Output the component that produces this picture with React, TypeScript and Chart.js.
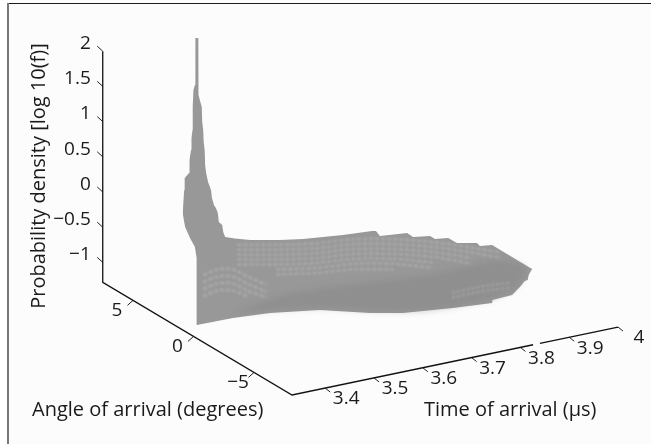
import React, { useEffect, useRef } from "react";
import { Chart, registerables } from "chart.js";

Chart.register(...registerables);

const FONT = "'Open Sans'";
const INK = "#1a1a1a";

// The picture plane is measured in apparent time (µs) and apparent log density,
// as read against the front corner of the box.
const planeTimeRange = [2.7336, 4.0676];
const planeDensityRange = [-1.98, 4.327];

// Axis box
const cornerTime = 3.332;
const timeEnd = 4;
const angleBack = 7.5;
const angleFront = -8.14;
const densityFloor = -1.284;
const densityTop = 2;
const timeAxisGap = [3.826, 3.84];

const timeTicks = [3.4, 3.5, 3.6, 3.7, 3.8, 3.9, 4];
const angleTicks = [5, 0, -5];
const densityTicks = [2, 1.5, 1, 0.5, 0, -0.5, -1];
const timeTickLabels = ["3.4", "3.5", "3.6", "3.7", "3.8", "3.9", "4"];
const angleTickLabels = ["5", "0", "\u22125"];
const densityTickLabels = ["2", "1.5", "1", "0.5", "0", "\u22120.5", "\u22121"];

// Silhouette of the surface
const upperTime = [3.108, 3.111, 3.112, 3.121, 3.122, 3.125, 3.126, 3.128, 3.128, 3.129, 3.13, 3.133, 3.134, 3.134, 3.14, 3.14, 3.14, 3.141, 3.147, 3.148, 3.15, 3.151, 3.153, 3.154, 3.156, 3.16, 3.166, 3.168, 3.172, 3.176, 3.18, 3.182, 3.189, 3.191, 3.195, 3.215, 3.246, 3.307, 3.355, 3.436, 3.496, 3.504, 3.512, 3.568, 3.58, 3.615, 3.625, 3.652, 3.67, 3.711, 3.717, 3.742, 3.793, 3.824];
const upperDensity = [1.301, 1.628, 1.799, 1.87, 2.054, 2.196, 2.367, 2.48, 2.736, 2.807, 3.049, 3.12, 3.12, 3.787, 3.787, 3.12, 3.091, 2.978, 2.807, 2.594, 2.48, 2.31, 2.196, 1.983, 1.87, 1.742, 1.628, 1.514, 1.415, 1.372, 1.301, 1.174, 1.131, 1.032, 0.961, 0.939, 0.918, 0.918, 0.932, 0.989, 1.046, 1.046, 0.975, 1.017, 0.961, 0.975, 0.932, 0.946, 0.875, 0.875, 0.833, 0.847, 0.634, 0.506];
const lowerTime = [3.108, 3.111, 3.113, 3.123, 3.133, 3.136, 3.137, 3.137, 3.211, 3.287, 3.389, 3.492, 3.559, 3.662, 3.742, 3.743, 3.783, 3.799, 3.809, 3.815, 3.817, 3.824];
const lowerDensity = [1.301, 1.174, 1.103, 0.946, 0.818, 0.662, 0.492, -0.289, -0.19, -0.119, -0.076, -0.119, -0.119, -0.048, 0.023, 0.066, 0.137, 0.25, 0.335, 0.349, 0.42, 0.506];

// Darker band along the ridge
const bandTime = [3.2, 3.25, 3.32, 3.4, 3.5, 3.6, 3.68, 3.74, 3.79, 3.815];
const bandTop = [-0.14, -0.02, 0.14, 0.24, 0.33, 0.41, 0.52, 0.62, 0.6, 0.5];
const bandBottom = [-0.14, -0.1, -0.07, -0.05, -0.09, -0.09, -0.01, 0.08, 0.24, 0.5];

// Lighter mesh rows on the back part of the surface
const meshRowTime = [3.22, 3.3, 3.38, 3.46, 3.54, 3.62, 3.7, 3.76];
const meshRows = [
  [0.85, 0.85, 0.87, 0.93, 0.93, 0.89, 0.81, 0.74],
  [0.78, 0.78, 0.8, 0.86, 0.86, 0.82, 0.74, 0.66],
  [0.71, 0.71, 0.73, 0.79, 0.79, 0.75, 0.66, NaN],
  [0.64, 0.64, 0.66, 0.72, 0.72, 0.68, 0.58, NaN],
  [0.57, 0.57, 0.59, 0.65, 0.65, 0.6, NaN, NaN],
  [NaN, 0.5, 0.52, 0.58, 0.58, 0.52, NaN, NaN],
  [NaN, 0.43, 0.45, 0.5, 0.5, NaN, NaN, NaN],
];
// Lighter mesh near the front left of the surface, and near the tip
const patchRowTime = [3.15, 3.18, 3.21, 3.24, 3.28];
const patchRows = [
  [0.42, 0.5, 0.5, 0.4, 0.28],
  [0.32, 0.4, 0.4, 0.3, 0.18],
  [0.22, 0.3, 0.3, 0.2, 0.1],
  [0.12, 0.2, 0.2, 0.12, NaN],
];
const tipRowTime = [3.66, 3.7, 3.74, 3.78];
const tipRows = [
  [0.17, 0.23, 0.28, 0.31],
  [0.1, 0.16, 0.21, 0.24],
];

const cols = (time: number[], density: number[]) =>
  time.map((x, i) => ({ x, y: density[i] }));

// Oblique projection of the box onto the picture plane
const project = (t: number, a: number, z: number) => ({
  x: t - (a - angleFront) * 0.0248,
  y: densityFloor + (t - cornerTime) * 1.445 + (a - angleFront) * 0.1023 + (z - densityFloor),
});
const pxX = (p: number) => p / 488;
const pxY = (p: number) => p / 70.4;
const gap = { x: NaN, y: NaN };
const withTick = (p: { x: number; y: number }, dx: number, dy: number) => [
  p,
  { x: p.x + pxX(dx), y: p.y - pxY(dy) },
  gap,
];

const axisPoints = [
  project(cornerTime, angleBack, densityTop),
  project(cornerTime, angleBack, densityFloor),
  project(cornerTime, angleFront, densityFloor),
  project(timeAxisGap[0], angleFront, densityFloor),
  gap,
  project(timeAxisGap[1], angleFront, densityFloor),
  project(timeEnd, angleFront, densityFloor),
];
const tickPoints = [
  ...densityTicks.flatMap((z) => withTick(project(cornerTime, angleBack, z), -5.5, -5)),
  ...angleTicks.flatMap((a) => withTick(project(cornerTime, a, densityFloor), -5.5, 5)),
  ...timeTicks.flatMap((t) => withTick(project(t, angleFront, densityFloor), 5, 4)),
];

const meshSet = (time: number[], rows: number[][], color: string, dash: number[], w: number) =>
  rows.map((r) => ({
    data: cols(time, r),
    showLine: true,
    pointRadius: 0,
    borderColor: color,
    borderWidth: w,
    borderDash: dash,
    tension: 0.3,
    fill: false,
    order: 3,
  }));

export default function App() {
  const ref = useRef<HTMLCanvasElement>(null);
  useEffect(() => {
    const frame = {
      id: "frame",
      beforeDraw(c: Chart) {
        const { ctx, width, height } = c;
        ctx.save();
        ctx.fillStyle = "#fcfcfc";
        ctx.fillRect(0, 0, width, height);
        ctx.fillStyle = "#ffffff";
        ctx.fillRect(0, 0, width, 3);
        ctx.fillRect(0, 0, 7, height);
        ctx.fillStyle = "#1c1c1c";
        ctx.fillRect(7, 3, width - 7, 1);
        ctx.fillStyle = "#777777";
        ctx.fillRect(7, 3, 2, height - 3);
        ctx.restore();
      },
    };
    // Soft, slightly out-of-focus rendering for the surface; axes stay crisp.
    const soften = {
      id: "soften",
      beforeDatasetsDraw(c: Chart) {
        c.ctx.save();
        (c.ctx as any).filter = "blur(0.7px)";
      },
      beforeDatasetDraw(c: Chart, args: any) {
        if ((c.data.datasets[args.index] as any).order === 1) (c.ctx as any).filter = "none";
      },
      afterDatasetDraw(c: Chart, args: any) {
        const next = (c.data.datasets[args.index] as any).nextBlur;
        if (next) (c.ctx as any).filter = next;
      },
      afterDatasetsDraw(c: Chart) {
        c.ctx.restore();
      },
    };
    const labels = {
      id: "labels",
      afterDraw(c: Chart) {
        const { ctx, scales } = c;
        const X = (v: number) => scales.x.getPixelForValue(v);
        const Y = (v: number) => scales.y.getPixelForValue(v);
        ctx.save();
        ctx.fillStyle = INK;
        ctx.font = `19px ${FONT}`;
        ctx.textBaseline = "middle";
        ctx.textAlign = "right";
        densityTicks.forEach((z, i) => {
          const p = project(cornerTime, angleBack, z);
          ctx.fillText(densityTickLabels[i], X(p.x) - 12, Y(p.y) - 7.5);
        });
        ctx.textAlign = "center";
        angleTicks.forEach((a, i) => {
          const p = project(cornerTime, a, densityFloor);
          ctx.fillText(angleTickLabels[i], X(p.x) - 16, Y(p.y) + 10);
        });
        timeTicks.forEach((t, i) => {
          const p = project(t, angleFront, densityFloor);
          ctx.fillText(timeTickLabels[i], X(p.x) + 21, Y(p.y) + 11);
        });
        ctx.textAlign = "left";
        ctx.font = `20px ${FONT}`;
        ctx.fillText("Angle of arrival (degrees)", 32, 410);
        ctx.fillText("Time of arrival (\u00b5s)", 424, 410);
        ctx.translate(39, 176);
        ctx.rotate(-Math.PI / 2);
        ctx.textAlign = "center";
        ctx.fillText("Probability density [log 10(f)]", 0, 0);
        ctx.restore();
      },
    };
    const chart = new Chart(ref.current!, {
      type: "scatter",
      data: {
        datasets: [
          { data: axisPoints, showLine: true, pointRadius: 0, borderColor: "#111", borderWidth: 1.3, order: 1 },
          { data: tickPoints, showLine: true, pointRadius: 0, borderColor: "#222", borderWidth: 1, order: 1 },
          ...meshSet(meshRowTime, meshRows, "rgba(215,215,215,0.3)", [4, 2], 2.4),
          ...meshSet(patchRowTime, patchRows, "rgba(215,215,215,0.28)", [4, 2], 3),
          ...meshSet(tipRowTime, tipRows, "rgba(215,215,215,0.28)", [3, 2], 2.4),
          { data: cols(bandTime, bandTop), showLine: true, pointRadius: 0, borderWidth: 0, tension: 0.3, fill: "+1", backgroundColor: "rgba(130,130,130,0.4)", order: 5, nextBlur: "blur(0.9px)" },
          { data: cols(bandTime, bandBottom), showLine: true, pointRadius: 0, borderWidth: 0, tension: 0.3, fill: false, order: 5 },
          { data: cols(upperTime, upperDensity), showLine: true, pointRadius: 0, borderWidth: 0, fill: "+1", backgroundColor: "#989898", order: 10, nextBlur: "blur(3px)" },
          { data: cols(lowerTime, lowerDensity), showLine: true, pointRadius: 0, borderWidth: 0, fill: false, order: 10 },
        ] as any,
      },
      options: {
        animation: false,
        responsive: false,
        layout: { padding: 0 },
        plugins: { legend: { display: false }, tooltip: { enabled: false }, filler: { drawTime: "beforeDatasetDraw" } },
        scales: {
          x: { type: "linear", display: false, min: planeTimeRange[0], max: planeTimeRange[1] },
          y: { type: "linear", display: false, min: planeDensityRange[0], max: planeDensityRange[1] },
        },
      } as any,
      plugins: [frame, soften, labels],
    });
    return () => chart.destroy();
  }, []);
  return (
    <canvas
      ref={ref}
      width={651}
      height={444}
      style={{ position: "fixed", left: 0, top: 0, display: "block" }}
    />
  );
}
